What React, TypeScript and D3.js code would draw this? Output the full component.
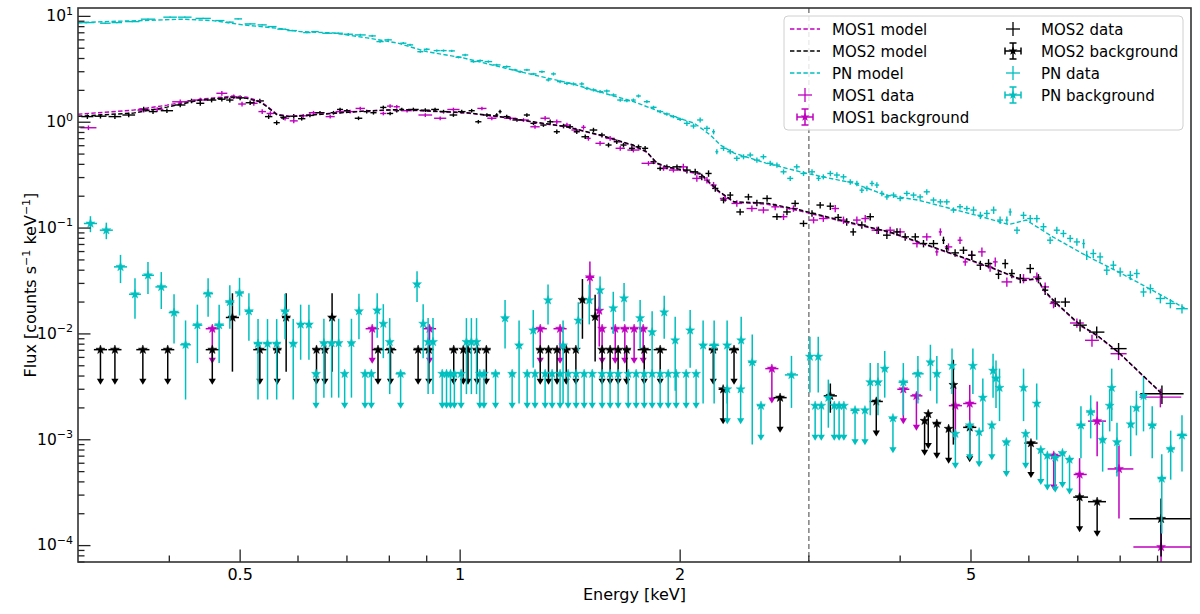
import React, { useEffect, useRef } from "react";
import * as d3 from "d3";

// folded models, counts s^-1 keV^-1 vs keV
const pnModel = [
  [0.30, 8.7], [0.332, 8.97], [0.368, 9.12], [0.417, 9.41], [0.459, 9.12], [0.505, 8.31], [0.562, 7.73],
  [0.604, 7.18], [0.670, 6.98], [0.746, 6.26], [0.82, 5.61], [0.90, 4.64], [1.01, 4.05], [1.13, 3.35],
  [1.26, 2.80], [1.41, 2.35], [1.55, 1.94], [1.73, 1.56], [1.93, 1.17], [2.09, 0.98], [2.20, 0.757],
  [2.27, 0.609], [2.37, 0.511], [2.62, 0.411], [2.92, 0.340], [3.10, 0.310], [3.45, 0.266], [3.82, 0.205],
  [4.23, 0.184], [4.67, 0.154], [5.17, 0.128], [5.63, 0.108], [5.95, 0.119], [6.47, 0.0826], [7.17, 0.0554],
  [8.02, 0.0374], [9.01, 0.0242], [9.80, 0.0175],
];

const mosModelE = [
  0.30, 0.357, 0.397, 0.441, 0.489, 0.511, 0.532, 0.544, 0.562, 0.585, 0.670, 0.746, 0.828, 1.022, 1.134,
  1.259, 1.400, 1.554, 1.725, 1.80, 1.86, 1.92, 2.13, 2.25, 2.37, 2.63, 2.92, 3.31, 3.87, 4.30, 4.78, 5.31,
  5.89, 6.17, 6.27, 6.48, 7.06, 7.44, 7.95, 9.13,
];
const mos1ModelF = [
  1.19, 1.30, 1.45, 1.65, 1.77, 1.72, 1.58, 1.42, 1.19, 1.14, 1.22, 1.28, 1.31, 1.22, 1.12, 1.0, 0.90, 0.75,
  0.60, 0.52, 0.405, 0.372, 0.322, 0.224, 0.175, 0.168, 0.145, 0.117, 0.091, 0.0705, 0.0548, 0.0425, 0.0318,
  0.033, 0.0264, 0.0205, 0.0119, 0.0096, 0.0067, 0.0027,
];
const mos2ModelF = [
  1.14, 1.22, 1.39, 1.62, 1.72, 1.68, 1.56, 1.40, 1.17, 1.13, 1.21, 1.28, 1.32, 1.23, 1.13, 1.01, 0.906, 0.757,
  0.609, 0.526, 0.41, 0.379, 0.329, 0.228, 0.177, 0.172, 0.148, 0.119, 0.092, 0.0714, 0.0554, 0.043, 0.0321,
  0.0334, 0.0268, 0.0208, 0.0121, 0.0097, 0.00675, 0.00272,
];

// source spectra [keV, flux]
const pnData = [
  [0.308, 8.74], [0.327, 8.62], [0.339, 8.74], [0.356, 8.93], [0.374, 9.41], [0.401, 9.83], [0.420, 9.83],
  [0.445, 9.57], [0.469, 9.13], [0.484, 8.82], [0.497, 9.47], [0.516, 8.49], [0.536, 8.31], [0.553, 8.01],
  [0.570, 7.57], [0.589, 7.34], [0.617, 7.03], [0.633, 7.18], [0.658, 6.93], [0.681, 6.93], [0.703, 6.78],
  [0.730, 6.68], [0.758, 6.54], [0.777, 5.78], [0.797, 6.00], [0.836, 5.58], [0.854, 5.38], [0.882, 4.64],
  [0.900, 4.89], [0.929, 4.75], [0.949, 4.75], [0.974, 4.72], [0.995, 4.11], [1.016, 4.32], [1.043, 3.74],
  [1.065, 3.82], [1.093, 3.74], [1.122, 3.48], [1.158, 3.35], [1.189, 3.12], [1.208, 3.00], [1.234, 3.12],
  [1.260, 2.86], [1.294, 3.00], [1.320, 2.51], [1.342, 2.86], [1.370, 2.42], [1.400, 2.33], [1.429, 2.30],
  [1.467, 2.30], [1.491, 2.09], [1.522, 2.02], [1.554, 1.944], [1.587, 1.973], [1.621, 1.81], [1.656, 1.62],
  [1.691, 1.597], [1.726, 1.62], [1.754, 1.77], [1.801, 1.563], [1.839, 1.383], [1.878, 1.26], [1.918, 1.196],
  [1.958, 1.13], [2.000, 1.065], [2.043, 0.976], [2.086, 0.921], [2.130, 1.05], [2.176, 0.876], [2.222, 0.813],
  [2.245, 0.526], [2.293, 0.567], [2.342, 0.526], [2.391, 0.456], [2.442, 0.472], [2.494, 0.49], [2.547, 0.439],
  [2.600, 0.472], [2.656, 0.409], [2.713, 0.394], [2.770, 0.34], [2.829, 0.2946], [2.888, 0.379], [2.950, 0.328],
  [3.030, 0.34], [3.093, 0.2946], [3.14, 0.305], [3.21, 0.328], [3.277, 0.317], [3.346, 0.305], [3.418, 0.2735],
  [3.49, 0.264], [3.545, 0.228], [3.602, 0.237], [3.66, 0.264], [3.717, 0.255], [3.776, 0.2125], [3.836, 0.197],
  [3.917, 0.205], [4.0, 0.1905], [4.085, 0.2125], [4.172, 0.205], [4.26, 0.197], [4.35, 0.22], [4.443, 0.184],
  [4.54, 0.177], [4.633, 0.177], [4.732, 0.148], [4.83, 0.159], [4.935, 0.153], [5.04, 0.148], [5.15, 0.132],
  [5.256, 0.1375], [5.37, 0.148], [5.48, 0.119], [5.598, 0.119], [5.657, 0.142], [5.78, 0.0955], [5.90, 0.132],
  [6.026, 0.123], [6.153, 0.123], [6.283, 0.103], [6.416, 0.0768], [6.553, 0.0955], [6.69, 0.0889],
  [6.834, 0.0798], [6.98, 0.074], [7.13, 0.0714], [7.20, 0.0554], [7.35, 0.0575], [7.51, 0.0534], [7.67, 0.04],
  [7.83, 0.0446], [8.0, 0.0385], [8.26, 0.0358], [8.43, 0.0372], [8.61, 0.0249], [8.80, 0.0268], [9.08, 0.0216],
  [9.37, 0.0194], [9.72, 0.0173],
];

const mos1Data = [
  [0.31, 0.887], [0.369, 1.30], [0.385, 1.32], [0.414, 1.56], [0.441, 1.62], [0.472, 1.877], [0.49, 1.74],
  [0.503, 1.486], [0.522, 1.51], [0.536, 1.26], [0.55, 1.21], [0.576, 1.09], [0.592, 1.03], [0.61, 1.15],
  [0.63, 1.23], [0.664, 1.13], [0.685, 1.26], [0.707, 1.26], [0.73, 1.35], [0.785, 1.21], [0.802, 1.42],
  [0.819, 1.40], [0.846, 1.285], [0.896, 1.17], [0.939, 1.09], [0.979, 1.32], [1.071, 1.35], [1.105, 1.09],
  [1.171, 1.09], [1.221, 1.05], [1.266, 0.906], [1.307, 1.09], [1.356, 1.01], [1.40, 0.941], [1.437, 0.844],
  [1.475, 0.895], [1.498, 0.704], [1.554, 0.632], [1.604, 0.704], [1.656, 0.567], [1.726, 0.546], [1.81, 0.409],
  [1.898, 0.366], [1.958, 0.353], [2.02, 0.379], [2.108, 0.2946], [2.176, 0.284], [2.222, 0.255], [2.305, 0.1905],
  [2.391, 0.171], [2.507, 0.153], [2.60, 0.148], [2.698, 0.1587], [2.77, 0.128], [2.858, 0.153], [3.045, 0.119],
  [3.14, 0.123], [3.26, 0.153], [3.346, 0.119], [3.49, 0.119], [3.583, 0.123], [3.717, 0.0955], [3.876, 0.0955],
  [4.0, 0.092], [4.217, 0.0714], [4.35, 0.0826], [4.49, 0.0596], [4.54, 0.092], [4.658, 0.0664], [4.83, 0.0768],
  [4.91, 0.0479], [5.01, 0.0554], [5.175, 0.0596], [5.31, 0.043], [5.397, 0.0479], [5.598, 0.031], [5.90, 0.0334],
  [6.153, 0.0345], [6.316, 0.0278], [6.485, 0.0194], [6.98, 0.01268], [7.32, 0.0087], [7.96, 0.0065],
  [9.08, 0.00253],
];

const mos2Data = [
  [0.309, 1.13], [0.322, 1.14], [0.337, 1.13], [0.352, 1.17], [0.369, 1.33], [0.380, 1.26], [0.397, 1.285],
  [0.414, 1.455], [0.429, 1.59], [0.441, 1.51], [0.457, 1.62], [0.472, 1.65], [0.484, 1.62], [0.500, 1.70],
  [0.516, 1.53], [0.532, 1.59], [0.547, 1.13], [0.561, 0.99], [0.573, 1.11], [0.592, 1.14], [0.607, 1.08],
  [0.623, 1.16], [0.643, 1.23], [0.671, 1.23], [0.685, 1.32], [0.700, 1.285], [0.726, 1.09], [0.745, 1.26],
  [0.761, 1.23], [0.785, 1.38], [0.802, 1.21], [0.819, 1.285], [0.832, 1.32], [0.863, 1.32], [0.896, 1.30],
  [0.924, 1.32], [0.949, 1.26], [0.979, 1.17], [1.005, 1.26], [1.037, 1.285], [1.059, 1.01], [1.088, 1.17],
  [1.122, 1.17], [1.134, 1.26], [1.158, 1.13], [1.196, 1.05], [1.234, 1.17], [1.26, 0.976], [1.30, 0.941],
  [1.328, 1.01], [1.356, 0.813], [1.385, 0.921], [1.414, 0.906], [1.444, 0.813], [1.483, 0.729], [1.522, 0.844],
  [1.563, 0.757], [1.596, 0.609], [1.638, 0.654], [1.673, 0.609], [1.718, 0.567], [1.754, 0.586], [1.791, 0.567],
  [1.839, 0.423], [1.878, 0.366], [1.918, 0.379], [1.98, 0.379], [2.043, 0.353], [2.097, 0.340], [2.141, 0.305],
  [2.187, 0.328], [2.234, 0.237], [2.293, 0.184], [2.342, 0.205], [2.416, 0.142], [2.48, 0.197], [2.547, 0.173],
  [2.63, 0.1905], [2.713, 0.128], [2.80, 0.142], [2.873, 0.171], [2.95, 0.1105], [3.03, 0.1375], [3.109, 0.165],
  [3.21, 0.161], [3.29, 0.126], [3.38, 0.1145], [3.45, 0.092], [3.545, 0.107], [3.64, 0.128], [3.735, 0.0955],
  [3.836, 0.0857], [3.96, 0.092], [4.064, 0.0826], [4.195, 0.0826], [4.305, 0.0714], [4.443, 0.0714],
  [4.585, 0.0768], [4.633, 0.0641], [4.756, 0.0583], [4.883, 0.0618], [5.013, 0.0554], [5.15, 0.0446],
  [5.284, 0.0462], [5.453, 0.0366], [5.569, 0.0462], [5.687, 0.0372], [5.84, 0.0334], [6.026, 0.0415],
  [6.184, 0.0334], [6.316, 0.0259], [6.52, 0.020], [6.73, 0.020], [7.05, 0.0121], [7.43, 0.0104], [7.96, 0.00726],
  [9.125, 0.00272],
];

// relative 1-sigma errors of the source spectra, [up to keV, fraction]
const pnErrBands = [[0.7, 0.014], [1.3, 0.025], [2.0, 0.035], [3.2, 0.055], [5.0, 0.06], [7.0, 0.08], [10.1, 0.1]];
const mosErrBands = [[0.6, 0.05], [1.3, 0.04], [2.0, 0.05], [3.2, 0.07], [5.0, 0.08], [7.0, 0.1], [8.5, 0.13], [10.1, 0.2]];

// background detections [keV, flux, err, (bin lo, bin hi)]
const pnBkg = [
  [0.312, 0.1105, 0.019], [0.328, 0.0955, 0.017], [0.343, 0.043, 0.0128], [0.359, 0.0237, 0.0098],
  [0.374, 0.0358, 0.012], [0.390, 0.0278, 0.0106], [0.406, 0.0159, 0.0078], [0.421, 0.0079, 0.0055],
  [0.437, 0.0121, 0.0068], [0.452, 0.024, 0.0095], [0.468, 0.0121, 0.0068], [0.484, 0.020, 0.0088],
  [0.499, 0.0244, 0.0095], [0.514, 0.0164, 0.0078], [0.529, 0.0081, 0.0057], [0.545, 0.0081, 0.0057],
  [0.561, 0.0081, 0.0057], [0.576, 0.0164, 0.0075], [0.591, 0.0081, 0.0057], [0.605, 0.0123, 0.0066],
  [0.621, 0.0123, 0.0066], [0.651, 0.0082, 0.0057], [0.667, 0.0082, 0.0057], [0.682, 0.0082, 0.0057],
  [0.710, 0.0082, 0.0057], [0.727, 0.0164, 0.0075], [0.770, 0.0167, 0.0075], [0.785, 0.0125, 0.0066],
  [0.801, 0.0084, 0.0057], [0.873, 0.0295, 0.0095], [0.890, 0.0125, 0.0066], [0.904, 0.0084, 0.0057],
  [0.918, 0.0084, 0.0057], [1.020, 0.0084, 0.0057], [1.036, 0.0084, 0.0057], [1.053, 0.0084, 0.0057],
  [1.152, 0.0141, 0.0068], [1.204, 0.0078, 0.0056], [1.259, 0.0108, 0.006], [1.319, 0.0208, 0.0085],
  [1.383, 0.0078, 0.0056], [1.451, 0.0134, 0.0065], [1.502, 0.0208, 0.0085], [1.554, 0.0259, 0.009],
  [1.620, 0.0175, 0.0075], [1.676, 0.0217, 0.0085], [1.763, 0.0141, 0.0068], [1.831, 0.0104, 0.006],
  [1.902, 0.016, 0.007], [1.969, 0.0087, 0.0058], [2.064, 0.0108, 0.006], [2.150, 0.0078, 0.0056],
  [2.226, 0.0078, 0.0056], [2.319, 0.0078, 0.0056], [2.424, 0.0087, 0.0058], [2.510, 0.0054, 0.0045],
  [2.84, 0.0041, 0.0021], [3.01, 0.0061, 0.0033], [3.09, 0.0061, 0.0033], [3.19, 0.0025, 0.0012],
  [3.64, 0.0035, 0.0018], [3.73, 0.0035, 0.0018], [3.81, 0.0047, 0.0022], [4.04, 0.0035, 0.0018],
  [4.23, 0.0042, 0.002], [4.40, 0.0054, 0.0025], [4.49, 0.0042, 0.002], [4.71, 0.005, 0.0023],
  [5.03, 0.005, 0.0023], [5.19, 0.0025, 0.0013], [5.36, 0.0045, 0.002], [5.41, 0.0038, 0.0018],
  [5.47, 0.0031, 0.0016], [5.90, 0.0031, 0.0016], [6.15, 0.0022, 0.0012], [7.07, 0.00137, 0.0007],
  [7.29, 0.00183, 0.0008], [7.57, 0.0010, 0.0005], [7.74, 0.0021, 0.0009], [7.79, 0.0031, 0.0016],
  [7.92, 0.00095, 0.0005], [8.27, 0.0014, 0.0007], [8.42, 0.002, 0.0009], [8.61, 0.0026, 0.0014],
  [8.85, 0.00137, 0.0007], [9.12, 0.00043, 0.0003], [9.38, 0.00082, 0.0004], [9.72, 0.0011, 0.0006],
];
// background upper limits [keV, flux, (bin lo, bin hi)]
const pnBkgUl = [
  [0.635, 0.0042], [0.695, 0.0042], [0.741, 0.0042], [0.756, 0.0042], [0.829, 0.0042], [0.945, 0.0042],
  [0.958, 0.0042], [0.970, 0.0042], [0.982, 0.0042], [1.003, 0.0042], [1.064, 0.0042], [1.078, 0.0042],
  [1.118, 0.0042], [1.178, 0.0042], [1.235, 0.0042], [1.266, 0.0042], [1.307, 0.0042], [1.336, 0.0042],
  [1.37, 0.0042], [1.405, 0.0042], [1.441, 0.0042], [1.478, 0.0042], [1.516, 0.0042], [1.564, 0.0042],
  [1.604, 0.0042], [1.645, 0.0042], [1.698, 0.0042], [1.741, 0.0042], [1.786, 0.0042], [1.831, 0.0042],
  [1.878, 0.0042], [1.926, 0.0042], [1.975, 0.0042], [2.038, 0.0042], [2.103, 0.0042], [2.32, 0.003],
  [2.42, 0.003], [2.58, 0.0021], [3.06, 0.0021], [3.12, 0.0021], [3.25, 0.0021], [3.30, 0.0021],
  [3.35, 0.0021], [3.47, 0.0019], [3.58, 0.0019], [3.91, 0.0016], [4.76, 0.00114], [4.98, 0.00137],
  [5.13, 0.00118], [5.34, 0.00137], [5.59, 0.00095], [5.94, 0.00114], [6.23, 0.0008], [6.36, 0.00071],
  [6.52, 0.00068], [6.67, 0.00075], [6.82, 0.00065],
];

const mos1Bkg = [
  [1.505, 0.0343, 0.014], [1.55, 0.0166, 0.009], [4.76, 0.0021, 0.0011], [4.98, 0.0022, 0.0011],
  [7.04, 0.00047, 0.0002, 6.91, 7.2], [7.44, 0.0015, 0.0008, 7.23, 7.65], [7.97, 0.00053, 0.00035, 7.69, 8.34],
  [9.1, 0.0000969, 0.00006, 8.34, 10.0],
];
const mos1BkgUl = [
  [0.458, 0.0112], [0.758, 0.0112], [0.908, 0.0112], [1.287, 0.0112], [1.37, 0.0112], [1.564, 0.0112],
  [1.63, 0.0112], [1.68, 0.0112], [1.73, 0.0112], [1.78, 0.0112], [2.67, 0.0047], [4.04, 0.003],
  [4.21, 0.0026], [6.49, 0.00071],
];

const mos2Bkg = [
  [0.488, 0.0143, 0.0099], [0.578, 0.0143, 0.0099], [0.668, 0.0143, 0.0099], [1.47, 0.021, 0.012],
  [1.53, 0.0145, 0.009], [3.21, 0.0026, 0.0008], [4.73, 0.0033, 0.0024], [9.1, 0.000179, 0.0001, 8.24, 10.0],
];
const mos2BkgUl = [
  [0.322, 0.0071], [0.337, 0.0071], [0.368, 0.0071], [0.398, 0.0071], [0.458, 0.0071], [0.532, 0.0071],
  [0.562, 0.0071], [0.636, 0.0071], [0.653, 0.0071], [0.772, 0.0071], [0.803, 0.0071], [0.876, 0.0071],
  [0.906, 0.0071], [0.98, 0.0071], [1.01, 0.0071], [1.025, 0.0071], [1.055, 0.0071], [1.086, 0.0071],
  [1.287, 0.0071], [1.321, 0.0071], [1.357, 0.0071], [1.397, 0.0071], [1.44, 0.0071], [1.564, 0.0071],
  [1.604, 0.0071], [1.645, 0.0071], [1.69, 0.0071], [1.786, 0.0071], [1.878, 0.0071], [2.22, 0.0071],
  [2.37, 0.0071], [2.29, 0.003], [2.74, 0.0025], [3.71, 0.0023], [4.32, 0.00151], [4.37, 0.00175],
  [4.49, 0.00142], [4.66, 0.00127], [4.98, 0.00131], [6.04, 0.00093], [7.04, 0.000287, 6.9, 7.23],
  [7.44, 0.00026, 7.23, 7.65],
];

const xMajor = [0.5, 1, 2, 5];
const xMinor = [0.4, 0.6, 0.7, 0.8, 0.9, 3, 4, 6, 7, 8, 9];
const yExp = [-4, -3, -2, -1, 0, 1];
const splitEnergy = 3;

const legendCol1 = [
  { label: "MOS1 model", kind: "line", color: "#bf00bf" },
  { label: "MOS2 model", kind: "line", color: "#000000" },
  { label: "PN model", kind: "line", color: "#00bfbf" },
  { label: "MOS1 data", kind: "data", color: "#bf00bf" },
  { label: "MOS1 background", kind: "bkg", color: "#bf00bf" },
];
const legendCol2 = [
  { label: "MOS2 data", kind: "data", color: "#000000" },
  { label: "MOS2 background", kind: "bkg", color: "#000000" },
  { label: "PN data", kind: "data", color: "#00bfbf" },
  { label: "PN background", kind: "bkg", color: "#00bfbf" },
];

const CYAN = "#00bfbf", MAGENTA = "#bf00bf", BLACK = "#000000";
const M = { left: 78, right: 1191, top: 8, bottom: 562 };
const FONT = "DejaVu Sans";

function starPath(cx: number, cy: number, R: number) {
  let d = "";
  for (let i = 0; i < 10; i++) {
    const a = -Math.PI / 2 + (i * Math.PI) / 5;
    const r = i % 2 === 0 ? R : R * 0.4;
    d += (i === 0 ? "M" : "L") + (cx + r * Math.cos(a)).toFixed(2) + "," + (cy + r * Math.sin(a)).toFixed(2);
  }
  return d + "Z";
}

export default function App() {
  const ref = useRef<SVGSVGElement>(null);

  useEffect(() => {
    const svg = d3.select(ref.current);
    svg.selectAll("*").remove();

    const x = d3.scaleLog().domain([0.3, 10]).range([M.left, M.right]);
    const y = d3.scaleLog().domain([7e-5, 12]).range([M.bottom, M.top]);

    svg.append("defs").append("clipPath").attr("id", "plot-clip")
      .append("rect").attr("x", M.left).attr("y", M.top)
      .attr("width", M.right - M.left).attr("height", M.bottom - M.top);

    const plot = svg.append("g").attr("clip-path", "url(#plot-clip)");

    // split between soft and hard band
    plot.append("line")
      .attr("x1", x(splitEnergy)).attr("x2", x(splitEnergy))
      .attr("y1", M.top).attr("y2", M.bottom)
      .attr("stroke", "#888").attr("stroke-width", 1.6).attr("stroke-dasharray", "5,3");

    const relErr = (bands: number[][], e: number) =>
      (bands.find(b => e <= b[0]) ?? bands[bands.length - 1])[1];

    const drawData = (rows: number[][], bands: number[][], color: string) => {
      const g = plot.append("g").attr("stroke", color).attr("stroke-width", 1.4);
      const L = rows.map(r => Math.log10(r[0]));
      rows.forEach(([e, f], i) => {
        const gl = i > 0 ? L[i] - L[i - 1] : Infinity;
        const gr = i < L.length - 1 ? L[i + 1] - L[i] : Infinity;
        const h = i === L.length - 1 ? 0.5 * gl : Math.min(0.46 * Math.min(gl, gr), 0.011);
        const r = relErr(bands, e);
        g.append("line").attr("x1", x(e / 10 ** h)).attr("x2", x(e * 10 ** h)).attr("y1", y(f)).attr("y2", y(f));
        g.append("line").attr("x1", x(e)).attr("x2", x(e)).attr("y1", y(f * (1 + r))).attr("y2", y(f * (1 - r)));
      });
    };

    const drawBkg = (det: number[][], ul: number[][], color: string) => {
      const pts = [
        ...det.map(d => ({ e: d[0], f: d[1], err: d[2], lo: d[3], hi: d[4], ul: false })),
        ...ul.map(d => ({ e: d[0], f: d[1], err: 0, lo: d[2], hi: d[3], ul: true })),
      ].sort((a, b) => a.e - b.e);
      const L = pts.map(p => Math.log10(p.e));
      const g = plot.append("g");
      pts.forEach((p, i) => {
        const gl = i > 0 ? L[i] - L[i - 1] : Infinity;
        const gr = i < L.length - 1 ? L[i + 1] - L[i] : Infinity;
        const h = Math.min(0.46 * Math.min(gl, gr), 0.009);
        const lo = p.lo ?? p.e / 10 ** h;
        const hi = p.hi ?? p.e * 10 ** h;
        const cx = x(p.e), cy = y(p.f);
        g.append("line").attr("x1", x(lo)).attr("x2", x(hi)).attr("y1", cy).attr("y2", cy)
          .attr("stroke", color).attr("stroke-width", 1.5);
        if (p.ul) {
          const tip = cy + 35;
          g.append("line").attr("x1", cx).attr("x2", cx).attr("y1", cy).attr("y2", tip - 3)
            .attr("stroke", color).attr("stroke-width", 1.5);
          g.append("path").attr("d", `M${cx - 3.6},${tip - 6}L${cx + 3.6},${tip - 6}L${cx},${tip}Z`).attr("fill", color);
        } else {
          const top = y(p.f + p.err);
          const bot = p.f - p.err > 0 ? y(p.f - p.err) : M.bottom + 4;
          g.append("line").attr("x1", cx).attr("x2", cx).attr("y1", top).attr("y2", bot)
            .attr("stroke", color).attr("stroke-width", 1.5);
        }
        g.append("path").attr("d", starPath(cx, cy, 4.7)).attr("fill", color).attr("stroke", color).attr("stroke-width", 0.5);
      });
    };

    drawData(mos1Data, mosErrBands, MAGENTA);
    drawBkg(mos1Bkg, mos1BkgUl, MAGENTA);
    drawData(mos2Data, mosErrBands, BLACK);
    drawBkg(mos2Bkg, mos2BkgUl, BLACK);
    drawData(pnData, pnErrBands, CYAN);
    drawBkg(pnBkg, pnBkgUl, CYAN);

    const line = d3.line<number[]>().x(d => x(d[0])).y(d => y(d[1]));
    const models: [number[][], string][] = [
      [mosModelE.map((e, i) => [e, mos1ModelF[i]]), MAGENTA],
      [mosModelE.map((e, i) => [e, mos2ModelF[i]]), BLACK],
      [pnModel, CYAN],
    ];
    models.forEach(([pts, color]) => {
      plot.append("path").datum(pts).attr("d", line as any)
        .attr("fill", "none").attr("stroke", color).attr("stroke-width", 1.4).attr("stroke-dasharray", "4.4,2.3");
    });

    // axes frame and inward ticks
    const axes = svg.append("g").attr("stroke", "#222").attr("stroke-width", 1.3);
    xMajor.forEach(v => axes.append("line").attr("x1", x(v)).attr("x2", x(v)).attr("y1", M.bottom).attr("y2", M.bottom - 12.5));
    xMinor.forEach(v => axes.append("line").attr("x1", x(v)).attr("x2", x(v)).attr("y1", M.bottom).attr("y2", M.bottom - 6.5));
    for (let k = -5; k <= 1; k++) {
      for (let d = 1; d <= 9; d++) {
        const v = d * 10 ** k;
        if (v < 7e-5 || v > 12) continue;
        axes.append("line").attr("x1", M.left).attr("x2", M.left + (d === 1 ? 12.5 : 6.5)).attr("y1", y(v)).attr("y2", y(v));
      }
    }
    svg.append("rect").attr("x", M.left).attr("y", M.top)
      .attr("width", M.right - M.left).attr("height", M.bottom - M.top)
      .attr("fill", "none").attr("stroke", "#333").attr("stroke-width", 1.6);

    const labels = svg.append("g").attr("font-family", FONT).attr("fill", "#000");
    xMajor.forEach(v => labels.append("text").attr("x", x(v)).attr("y", 580)
      .attr("text-anchor", "middle").attr("font-size", 16).text(String(v)));
    yExp.forEach(k => {
      const t = labels.append("text").attr("x", 73).attr("y", y(10 ** k) + 4.8)
        .attr("text-anchor", "end").attr("font-size", 15.5);
      t.append("tspan").text("10");
      t.append("tspan").attr("dy", -6.5).attr("font-size", 11).text(k < 0 ? "\u2212" + Math.abs(k) : String(k));
    });
    labels.append("text").attr("x", (M.left + M.right) / 2).attr("y", 600)
      .attr("text-anchor", "middle").attr("font-size", 16).text("Energy [keV]");
    const yl = labels.append("text").attr("transform", `translate(36,${(M.top + M.bottom) / 2}) rotate(-90)`)
      .attr("text-anchor", "middle").attr("font-size", 16);
    yl.append("tspan").text("Flux [counts s");
    yl.append("tspan").attr("dy", -6).attr("font-size", 11).text("\u22121");
    yl.append("tspan").attr("dy", 6).text(" keV");
    yl.append("tspan").attr("dy", -6).attr("font-size", 11).text("\u22121");
    yl.append("tspan").attr("dy", 6).text("]");

    // legend
    const lg = svg.append("g").attr("font-family", FONT);
    lg.append("rect").attr("x", 784).attr("y", 16).attr("width", 399).attr("height", 114).attr("rx", 4)
      .attr("fill", "#fff").attr("fill-opacity", 0.85).attr("stroke", "#d0d0d0");
    const drawHandle = (item: { kind: string; color: string }, cx: number, cy: number) => {
      if (item.kind === "line") {
        lg.append("line").attr("x1", cx - 15).attr("x2", cx + 15).attr("y1", cy).attr("y2", cy)
          .attr("stroke", item.color).attr("stroke-width", 1.4).attr("stroke-dasharray", "4.4,2.3");
      } else if (item.kind === "data") {
        lg.append("line").attr("x1", cx - 7).attr("x2", cx + 7).attr("y1", cy).attr("y2", cy).attr("stroke", item.color).attr("stroke-width", 1.3);
        lg.append("line").attr("x1", cx).attr("x2", cx).attr("y1", cy - 7).attr("y2", cy + 7).attr("stroke", item.color).attr("stroke-width", 1.3);
      } else {
        const s = item.color;
        lg.append("line").attr("x1", cx - 8).attr("x2", cx + 8).attr("y1", cy).attr("y2", cy).attr("stroke", s).attr("stroke-width", 1.5);
        lg.append("line").attr("x1", cx).attr("x2", cx).attr("y1", cy - 8).attr("y2", cy + 8).attr("stroke", s).attr("stroke-width", 1.5);
        [-8, 8].forEach(o => {
          lg.append("line").attr("x1", cx - 3.5).attr("x2", cx + 3.5).attr("y1", cy + o).attr("y2", cy + o).attr("stroke", s).attr("stroke-width", 1.5);
          lg.append("line").attr("x1", cx + o).attr("x2", cx + o).attr("y1", cy - 3.5).attr("y2", cy + 3.5).attr("stroke", s).attr("stroke-width", 1.5);
        });
        lg.append("path").attr("d", starPath(cx, cy, 4.7)).attr("fill", s);
      }
    };
    legendCol1.forEach((item, i) => {
      const cy = 29 + i * 22;
      drawHandle(item, 805, cy);
      lg.append("text").attr("x", 832).attr("y", cy + 5.5).attr("font-size", 15).text(item.label);
    });
    legendCol2.forEach((item, i) => {
      const cy = 29 + i * 22;
      drawHandle(item, 1013, cy);
      lg.append("text").attr("x", 1041).attr("y", cy + 5.5).attr("font-size", 15).text(item.label);
    });
  }, []);

  return (
    <svg
      ref={ref}
      width={1200}
      height={614}
      style={{ position: "absolute", left: 0, top: 0, background: "#fff" }}
    />
  );
}
